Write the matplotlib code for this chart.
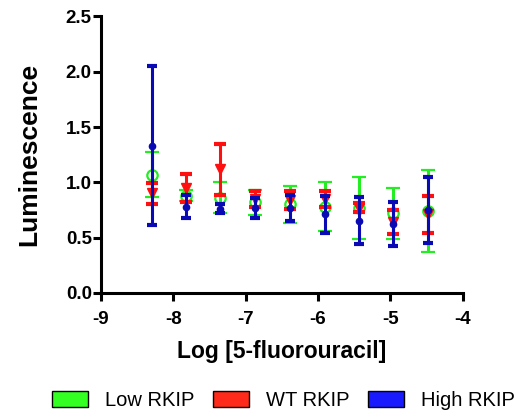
import numpy as np
import matplotlib.pyplot as plt
from matplotlib.patches import Patch

plt.rcParams['font.family'] = ['Liberation Sans', 'DejaVu Sans']

# log concentrations (3-fold dilution series)
logdose = [-8.30, -7.82, -7.35, -6.87, -6.39, -5.91, -5.43, -4.96, -4.48]

low_mean = [1.07, 0.88, 0.86, 0.82, 0.80, 0.78, 0.77, 0.72, 0.74]
low_err = [0.20, 0.05, 0.14, 0.115, 0.165, 0.22, 0.28, 0.23, 0.37]

wt_mean = [0.90, 0.95, 1.12, 0.85, 0.84, 0.85, 0.77, 0.64, 0.71]
wt_err = [0.095, 0.13, 0.23, 0.07, 0.08, 0.07, 0.04, 0.11, 0.17]

high_mean = [1.33, 0.78, 0.76, 0.77, 0.77, 0.71, 0.655, 0.62, 0.75]
high_err = [0.72, 0.105, 0.04, 0.09, 0.12, 0.165, 0.21, 0.20, 0.30]

fig = plt.figure(figsize=(5.2, 4.12), dpi=100)
ax = fig.add_axes([0.194, 0.289, 0.696, 0.671])

ax.errorbar(logdose, low_mean, yerr=low_err, fmt='o', color='#22ee22',
            mfc='none', mec='#22ee22', ms=7.5, mew=1.6, elinewidth=2.2,
            capsize=4.7, capthick=3, zorder=2)
ax.errorbar(logdose, wt_mean, yerr=wt_err, fmt='v', color='#ff1010',
            ms=7, elinewidth=2.2, capsize=4.5, capthick=3, zorder=3)
ax.errorbar(logdose, high_mean, yerr=high_err, fmt='o', color='#0a0ab4',
            ms=4.5, elinewidth=2.2, capsize=3.6, capthick=3, zorder=4)

ax.set_xlim(-9, -4)
ax.set_ylim(0, 2.5)
ax.set_xticks([-9, -8, -7, -6, -5, -4])
ax.set_xticklabels(['-9', '-8', '-7', '-6', '-5', '-4'])
ax.set_yticks([0, 0.5, 1.0, 1.5, 2.0, 2.5])
ax.set_yticklabels(['0.0', '0.5', '1.0', '1.5', '2.0', '2.5'])

for s in ['top', 'right']:
    ax.spines[s].set_visible(False)
for s in ['left', 'bottom']:
    ax.spines[s].set_linewidth(2.2)
ax.tick_params(width=2.2, length=6, labelsize=13.5)
ax.tick_params(axis='x', pad=7)
ax.tick_params(axis='y', pad=0.5)
for lbl in ax.get_xticklabels() + ax.get_yticklabels():
    lbl.set_fontweight('bold')

ax.set_xlabel('Log [5-fluorouracil]', fontsize=16.5, fontweight='bold',
              labelpad=9)
ax.set_ylabel('Luminescence', fontsize=19, fontweight='bold', labelpad=18)

handles = [Patch(facecolor='#33ff22', edgecolor='black', label='Low RKIP'),
           Patch(facecolor='#ff2a1a', edgecolor='black', label='WT RKIP'),
           Patch(facecolor='#1a1aff', edgecolor='black', label='High RKIP')]
fig.legend(handles=handles, loc='center', bbox_to_anchor=(0.545, 0.028),
           ncol=3, frameon=False, fontsize=14.5, handlelength=1.8,
           handleheight=0.85, columnspacing=0.9, handletextpad=0.85,
           borderpad=0, borderaxespad=0)

plt.savefig('out.png', dpi=100)
